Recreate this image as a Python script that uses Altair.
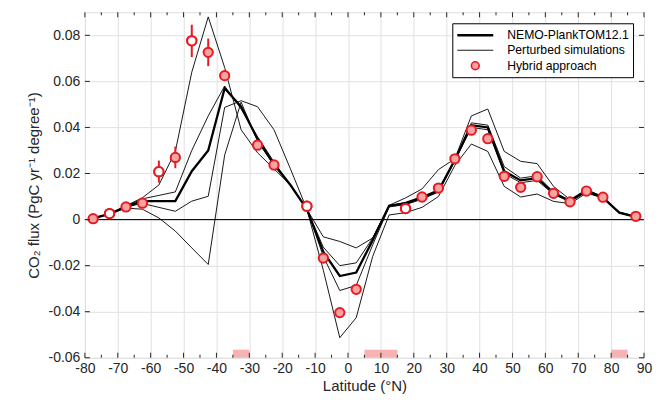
import altair as alt
import pandas as pd

# ---------------- data ----------------
lat_model = [-77.5, -72.5, -67.5, -62.5, -57.5, -52.5, -47.5, -42.5, -37.5, -32.5,
             -27.5, -22.5, -17.5, -12.5, -7.5, -2.5, 2.5, 7.5, 12.5, 17.5,
             22.5, 27.5, 32.5, 37.5, 42.5, 47.5, 52.5, 57.5, 62.5, 67.5,
             72.5, 77.5, 82.5, 87.5]

nemo = [0.0005, 0.0025, 0.0055, 0.008, 0.008, 0.008, 0.021, 0.030, 0.057, 0.049,
        0.035, 0.024, 0.015, 0.0045, -0.014, -0.0245, -0.023, -0.009, 0.006, 0.007,
        0.0095, 0.0125, 0.026, 0.041, 0.040, 0.021, 0.017, 0.018, 0.0115, 0.008,
        0.0125, 0.0095, 0.003, 0.0012]

pert_a = [0.0005, 0.0025, 0.006, 0.0095, 0.015, 0.0296, 0.064, 0.088, 0.066, 0.039,
          0.029, 0.022, 0.015, 0.0045, -0.0075, -0.0095, -0.0123, -0.008, 0.0062, 0.0094,
          0.0133, 0.0217, 0.0264, 0.045, 0.048, 0.0296, 0.0253, 0.0243, 0.0144, 0.0087,
          0.013, 0.010, 0.0032, 0.0014]

pert_b = [0.0005, 0.0025, 0.0058, 0.009, 0.0105, 0.012, 0.030, 0.045, 0.058, 0.048,
          0.036, 0.025, 0.015, 0.0045, -0.012, -0.020, -0.0188, -0.008, 0.006, 0.0075,
          0.010, 0.013, 0.026, 0.042, 0.041, 0.023, 0.018, 0.019, 0.012, 0.0082,
          0.013, 0.0098, 0.003, 0.0012]

pert_c = [0.0005, 0.0025, 0.0055, 0.007, 0.0053, 0.0036, 0.008, 0.0101, 0.0487, 0.0516,
          0.049, 0.039, 0.022, 0.0045, -0.016, -0.0308, -0.0286, -0.011, 0.0055, 0.0065,
          0.0088, 0.012, 0.0255, 0.040, 0.039, 0.020, 0.016, 0.017, 0.011, 0.0078,
          0.012, 0.0093, 0.0028, 0.0011]

pert_d = [0.0005, 0.0025, 0.005, 0.0045, 0.0007, -0.005, -0.0123, -0.0195, 0.028, 0.051,
          0.034, 0.0235, 0.015, 0.0045, -0.022, -0.0513, -0.0426, -0.016, 0.002, 0.003,
          0.0053, 0.010, 0.0235, 0.0328, 0.0296, 0.0144, 0.0098, 0.0111, 0.0079, 0.0069,
          0.0115, 0.0094, 0.003, 0.0011]

lat_hybrid = [-77.5, -72.5, -67.5, -62.5, -57.5, -52.5, -47.5, -42.5, -37.5, -27.5,
              -22.5, -12.5, -7.5, -2.5, 2.5, 17.5, 22.5, 27.5, 32.5, 37.5,
              42.5, 47.5, 52.5, 57.5, 62.5, 67.5, 72.5, 77.5, 87.5]
hybrid = [0.0004, 0.0026, 0.0055, 0.0071, 0.0208, 0.027, 0.0776, 0.0726, 0.0625, 0.0323,
          0.0237, 0.0058, -0.0167, -0.0404, -0.0303, 0.0048, 0.0098, 0.0137, 0.0264, 0.0388,
          0.0351, 0.0188, 0.014, 0.0186, 0.0114, 0.0077, 0.0124, 0.0097, 0.0014]
hybrid_err = [0, 0, 0, 0, 0.0048, 0.0047, 0.007, 0.006, 0, 0,
              0, 0, 0, 0, 0, 0, 0, 0, 0, 0,
              0, 0, 0, 0, 0, 0, 0, 0, 0]
hybrid_open = [False, True, False, False, True, False, True, False, False, False,
               False, True, False, False, False, True, False, False, False, False,
               False, False, False, False, False, False, False, False, False]

gap_start = [-35, 5, 80]
gap_end = [-30, 15, 85]
gap_bottom = -0.06
gap_top = -0.0565

x_major = list(range(-80, 91, 10))
x_minor = list(range(-75, 90, 10))
y_major = [-0.06, -0.04, -0.02, 0, 0.02, 0.04, 0.06, 0.08]

NEMO = "NEMO-PlankTOM12.1"
PERT = "Perturbed simulations"
HYB = "Hybrid approach"

# ---------------- tables ----------------
rows = []
for name, vals in [("a", pert_a), ("b", pert_b), ("c", pert_c), ("d", pert_d)]:
    for la, v in zip(lat_model, vals):
        rows.append({"lat": la, "flux": v, "run": name, "series": PERT})
df_pert = pd.DataFrame(rows)
df_nemo = pd.DataFrame({"lat": lat_model, "flux": nemo, "series": NEMO})
df_hyb = pd.DataFrame({
    "lat": lat_hybrid, "flux": hybrid,
    "lo": [v - e for v, e in zip(hybrid, hybrid_err)],
    "hi": [v + e for v, e in zip(hybrid, hybrid_err)],
    "open": hybrid_open,
    "series": HYB,
})
df_open = df_hyb[df_hyb["open"]]
df_gap = pd.DataFrame({"start": gap_start, "end": gap_end,
                       "y0": [gap_bottom] * len(gap_start), "y1": [gap_top] * len(gap_start)})
df_zero = pd.DataFrame({"y": [0]})
df_xmaj = pd.DataFrame({"v": x_major})
df_xmin = pd.DataFrame({"v": x_minor})
df_ymaj = pd.DataFrame({"v": y_major})

# ---------------- styling ----------------
W, H = 560, 346
FONT = "Liberation Sans"
TXT = "#262626"
RED = "#e8191f"
PINK = "#f5a3a3"
LINE_PATH = "M-2.77,0L2.77,0"
CIRC_PATH = "M0.6,0A0.6,0.6,0,1,1,-0.6,0A0.6,0.6,0,1,1,0.6,0Z"
PT_SIZE = 240

xscale = alt.Scale(domain=[-80, 90], nice=False, zero=False)
yscale = alt.Scale(domain=[-0.06, 0.09], nice=False, zero=False)

xaxis = alt.Axis(values=x_major, labelExpr="'' + datum.value", grid=True,
                 gridColor="#e1e1e1", gridWidth=1, ticks=False, domain=False,
                 labelFont=FONT, labelFontSize=14, labelColor=TXT, labelPadding=4,
                 labelFlush=False, labelOverlap=False,
                 title="Latitude (°N)", titleFont=FONT, titleFontSize=15,
                 titleFontWeight="normal", titleColor=TXT, titlePadding=3)
yaxis = alt.Axis(values=y_major, labelExpr="'' + datum.value", grid=True,
                 gridColor="#e1e1e1", gridWidth=1, ticks=False, domain=False,
                 labelFont=FONT, labelFontSize=14, labelColor=TXT, labelPadding=5,
                 labelOverlap=False,
                 title="CO₂ flux (PgC yr⁻¹ degree⁻¹)", titleFont=FONT, titleFontSize=15,
                 titleFontWeight="normal", titleColor=TXT, titlePadding=7)

X = lambda f: alt.X(f, type="quantitative", scale=xscale, axis=xaxis)
Y = lambda f: alt.Y(f, type="quantitative", scale=yscale, axis=yaxis)

# one shared domain order for every legend scale (so the legends merge);
# the legend lists the entries in the reference's order
DOM = [PERT, HYB, NEMO]
ORDER = [NEMO, PERT, HYB]
legend = alt.Legend(
    title=None, orient="top-right", offset=11, padding=4, values=ORDER,
    strokeColor="black", fillColor="white", cornerRadius=0,
    labelFont=FONT, labelFontSize=12.2, labelColor="black",
    rowPadding=1, symbolSize=169, symbolOffset=11, labelOffset=24,
)
stroke_enc = alt.Stroke("series:N", scale=alt.Scale(domain=DOM, range=["black", RED, "black"]),
                        legend=legend)
shape_enc = alt.Shape("series:N", scale=alt.Scale(domain=DOM, range=[LINE_PATH, CIRC_PATH, LINE_PATH]),
                      legend=legend)
fill_enc = alt.Fill("series:N", scale=alt.Scale(domain=DOM, range=["transparent", PINK, "transparent"]),
                    legend=legend)
sw_enc = alt.StrokeWidth("series:N", scale=alt.Scale(type="point", domain=DOM, range=[0.9, 2.3]),
                         legend=legend)

# ---------------- layers ----------------
gaps = alt.Chart(df_gap).mark_rect(color="#f7b3b3").encode(
    x=X("start"), x2="end", y=Y("y0"), y2="y1")

zero = alt.Chart(df_zero).mark_rule(color="black", strokeWidth=1).encode(y=Y("y"))

pert = alt.Chart(df_pert).mark_line().encode(
    x=X("lat"), y=Y("flux"), detail="run:N", stroke=stroke_enc, strokeWidth=sw_enc)

bold = alt.Chart(df_nemo).mark_line().encode(
    x=X("lat"), y=Y("flux"), stroke=stroke_enc, strokeWidth=sw_enc)

errs = alt.Chart(df_hyb).mark_rule(color=RED, strokeWidth=2).encode(
    x=X("lat"), y=Y("lo"), y2="hi")

pts = alt.Chart(df_hyb).mark_point(size=PT_SIZE, opacity=1, strokeWidth=2).encode(
    x=X("lat"), y=Y("flux"), stroke=stroke_enc, shape=shape_enc, fill=fill_enc)

pts_open = alt.Chart(df_open).mark_point(size=PT_SIZE, opacity=1, shape=CIRC_PATH,
                                         fill="white", stroke=RED, strokeWidth=2).encode(
    x=X("lat"), y=Y("flux"))

tick_bot_maj = alt.Chart(df_xmaj).mark_rule(color=TXT, strokeWidth=1).encode(
    x=X("v"), y=alt.value(H), y2=alt.value(H - 5))
tick_bot_min = alt.Chart(df_xmin).mark_rule(color=TXT, strokeWidth=1).encode(
    x=X("v"), y=alt.value(H), y2=alt.value(H - 3))
tick_top_maj = alt.Chart(df_xmaj).mark_rule(color=TXT, strokeWidth=1).encode(
    x=X("v"), y=alt.value(0), y2=alt.value(5))
tick_top_min = alt.Chart(df_xmin).mark_rule(color=TXT, strokeWidth=1).encode(
    x=X("v"), y=alt.value(0), y2=alt.value(3))
tick_left = alt.Chart(df_ymaj).mark_rule(color=TXT, strokeWidth=1).encode(
    y=Y("v"), x=alt.value(0), x2=alt.value(5))
tick_right = alt.Chart(df_ymaj).mark_rule(color=TXT, strokeWidth=1).encode(
    y=Y("v"), x=alt.value(W), x2=alt.value(W - 5))

chart = alt.layer(
    gaps, zero, pert, bold, errs, pts, pts_open,
    tick_bot_maj, tick_bot_min, tick_top_maj, tick_top_min, tick_left, tick_right,
).properties(
    width=W, height=H,
    autosize=alt.AutoSizeParams(type="none"),
    padding={"left": 77, "top": 4, "right": 10, "bottom": 40},
).configure_view(
    stroke=TXT, strokeWidth=1
).configure(background="white")

chart.save("out.html", embed_options={"renderer": "svg", "actions": False})
